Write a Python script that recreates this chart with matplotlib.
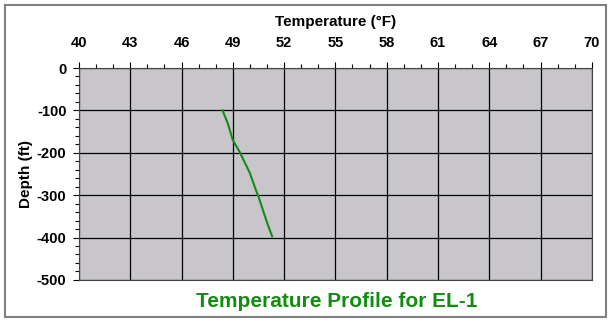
import matplotlib
matplotlib.use('Agg')
import matplotlib.pyplot as plt
from matplotlib.patches import Rectangle
from matplotlib.ticker import MultipleLocator

# 温度プロファイルのデータ
depth = [-100, -130, -170, -198, -248, -288, -303, -340, -370, -397]
temperature = [48.4, 48.7, 49.0, 49.4, 50.0, 50.35, 50.5, 50.8, 51.05, 51.3]

x_ticks = [40, 43, 46, 49, 52, 55, 58, 61, 64, 67, 70]
y_ticks = [0, -100, -200, -300, -400, -500]

plt.rcParams['font.family'] = ['Liberation Sans', 'DejaVu Sans']
plt.rcParams['axes.unicode_minus'] = False

fig = plt.figure(figsize=(6.12, 3.27), dpi=100)
ax = fig.add_axes([0.129, 0.144, 0.838, 0.648])
ax.set_facecolor('#C8C6CA')

ax.plot(temperature, depth, color='#178A17', linewidth=1.5)

ax.set_xlim(40, 70)
ax.set_ylim(-500, 0)
ax.set_xticks(x_ticks)
ax.set_yticks(y_ticks)
ax.xaxis.set_minor_locator(MultipleLocator(1))
ax.yaxis.set_minor_locator(MultipleLocator(20))
ax.xaxis.tick_top()
ax.xaxis.set_label_position('top')
ax.tick_params(axis='both', which='major', direction='out', length=4, width=0.8,
               labelsize=10.5)
ax.tick_params(axis='both', which='minor', direction='out', length=3, width=0.8)
ax.tick_params(axis='x', pad=9)
ax.tick_params(axis='y', pad=5)
for lbl in ax.get_xticklabels() + ax.get_yticklabels():
    lbl.set_fontweight('bold')

ax.grid(True, which='major', color='black', linewidth=0.9)
for s in ax.spines.values():
    s.set_color('#444444')
    s.set_linewidth(0.8)

ax.set_xlabel('Temperature (°F)', fontsize=11, fontweight='bold', labelpad=7)
ax.set_ylabel('Depth (ft)', fontsize=11, fontweight='bold', labelpad=3)

fig.text(0.55, 0.077, 'Temperature Profile for EL-1', color='#148C14',
         fontsize=15, fontweight='bold', ha='center', va='center')

# 外枠
fig.patches.append(Rectangle((0.008, 0.03), 0.982, 0.955, transform=fig.transFigure,
                             fill=False, edgecolor='#808080', linewidth=1.5))

fig.savefig('out.png', dpi=100)
